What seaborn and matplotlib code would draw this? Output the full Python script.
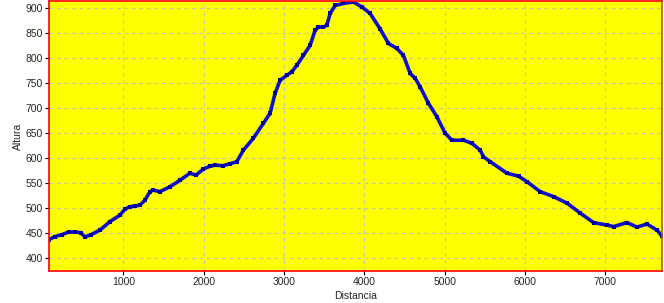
import matplotlib
matplotlib.use("Agg")
import matplotlib.pyplot as plt
import seaborn as sns
import pandas as pd

distancia = [75, 150, 237, 320, 400, 470, 523, 600, 710, 834, 959, 1021, 1083, 1146, 1208,
             1270, 1332, 1370, 1457, 1582, 1707, 1830, 1905, 1993, 2080, 2142, 2240, 2329,
             2412, 2494, 2619, 2744, 2827, 2889, 2951, 3035, 3097, 3159, 3242, 3325, 3387,
             3429, 3491, 3533, 3574, 3637, 3740, 3865, 3969, 4072, 4197, 4300, 4404, 4487,
             4570, 4633, 4695, 4798, 4903, 5006, 5090, 5234, 5339, 5442, 5483, 5567, 5774,
             5919, 6023, 6189, 6355, 6522, 6687, 6853, 7020, 7103, 7269, 7393, 7518, 7642, 7705]
altura = [436, 442, 446, 451, 451, 450, 441, 446, 455, 472, 485, 497, 502, 503, 505,
          515, 532, 535, 532, 542, 555, 569, 565, 577, 583, 585, 584, 588,
          592, 615, 639, 669, 689, 729, 755, 765, 772, 785, 805, 825, 855,
          862, 862, 865, 889, 905, 909, 912, 902, 889, 858, 829, 819, 805,
          769, 759, 742, 709, 682, 649, 635, 635, 629, 615, 602, 592, 569,
          563, 552, 532, 522, 509, 489, 470, 465, 462, 470, 461, 467, 455, 443]

df = pd.DataFrame({"Distancia": distancia, "Altura": altura})

sns.set_style("white")
plt.rcParams['font.family'] = ['Liberation Sans', 'DejaVu Sans']

fig = plt.figure(figsize=(6.64, 3.03), dpi=100)
ax = fig.add_axes([49 / 664, 32 / 303, 613 / 664, 270 / 303])
ax.set_facecolor('#FFFF00')

sns.lineplot(data=df, x="Distancia", y="Altura", ax=ax, color='#1010C8',
             linewidth=2.6, marker='s', markersize=2.8, markeredgewidth=0,
             markerfacecolor='#0000A0')

ax.set_xlim(75, 7705)
ax.set_ylim(373, 914)
ax.set_xticks([1000, 2000, 3000, 4000, 5000, 6000, 7000])
ax.set_yticks([400, 450, 500, 550, 600, 650, 700, 750, 800, 850, 900])
ax.grid(True, color='#C8C8A0', linestyle=(0, (3, 3)), linewidth=0.9)
ax.set_axisbelow(True)

for side in ['top', 'left', 'bottom']:
    ax.spines[side].set_color('#FF0000')
    ax.spines[side].set_linewidth(1.2)
ax.spines['right'].set_color('#B06000')
ax.spines['right'].set_linewidth(1.2)

ax.tick_params(axis='both', which='both', direction='out', length=3, width=0.8,
               color='black', labelsize=7.5, pad=1.5, left=True, bottom=True)
ax.set_xlabel("Distancia", fontsize=7.5, labelpad=2.5)
ax.set_ylabel("Altura", fontsize=7.5, labelpad=2)

fig.savefig("out.png", dpi=100, facecolor='white')
